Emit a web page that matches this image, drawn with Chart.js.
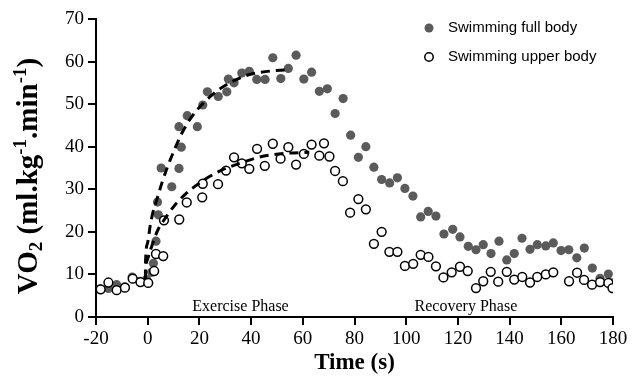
<!DOCTYPE html>
<html>
<head>
<meta charset="utf-8">
<script src="https://cdn.jsdelivr.net/npm/chart.js@4.4.1/dist/chart.umd.min.js"></script>
<style>
  html, body { margin: 0; padding: 0; background: #fff; }
  #wrap { width: 632px; height: 386px; }
</style>
</head>
<body>
<div id="wrap"><canvas id="vo2Chart" width="632" height="386"></canvas></div>
<script>
// ── Data ───────────────────────────────────────
const fullTime = [-18.4, -15.2, -12.0, -8.8, -6.0, -3.0, -0.4, 1.5, 2.2, 3.2, 4.1, 3.8, 5.2,
  9.3, 12.1, 13.0, 12.1, 15.3, 19.2, 21.3, 23.1, 27.3, 30.6, 31.2, 33.4, 36.4, 39.3, 42.2,
  45.4, 48.4, 51.5, 54.4, 57.4, 60.4, 63.4, 66.4, 69.5, 72.5, 75.6, 78.5, 81.5, 84.4, 87.5,
  90.5, 93.6, 96.6, 99.5, 102.6, 105.6, 108.5, 111.5, 114.6, 118.0, 120.8, 124.0, 127.0,
  129.8, 132.8, 135.9, 138.9, 141.8, 144.8, 147.9, 150.7, 154.0, 156.9, 159.9, 162.9, 166.0,
  168.9, 172.0, 175.0, 178.2, 179.8];
const fullVO2 = [6.6, 6.7, 7.6, 7.1, 9.4, 8.4, 8.8, 10.5, 12.6, 17.8, 24.0, 27.0, 35.0,
  30.6, 34.9, 39.9, 44.7, 47.3, 44.7, 49.8, 52.9, 51.8, 52.9, 55.9, 55.0, 57.3, 57.7, 55.8,
  55.8, 60.9, 56.0, 58.4, 61.5, 55.9, 57.5, 53.0, 53.6, 47.8, 51.3, 42.7, 37.5, 40.0, 35.2,
  32.3, 31.5, 32.7, 30.2, 28.4, 23.5, 24.8, 23.7, 19.5, 20.6, 18.8, 16.6, 15.8,
  17.0, 14.9, 17.8, 13.4, 14.9, 18.5, 15.9, 17.0, 16.7, 17.4, 15.6, 15.8, 13.9,
  16.2, 11.5, 9.1, 10.1, 8.0];

const upperTime = [-18.2, -15.2, -12.0, -8.8, -5.8, -2.8, 0.2, 2.5, 3.2, 6.0, 6.3, 12.2,
  15.1, 21.1, 21.3, 27.2, 30.3, 33.4, 36.4, 39.3, 42.3, 45.3, 48.4, 51.4, 54.4, 57.4, 60.4,
  63.4, 66.4, 68.2, 70.3, 72.5, 75.5, 78.3, 81.5, 84.4, 87.5, 90.5, 93.5, 96.6, 99.5, 102.7,
  105.6, 108.6, 111.5, 114.4, 117.6, 120.8, 123.8, 127.0, 129.8, 132.7, 135.6, 138.9, 141.8,
  144.9, 147.9, 150.7, 154.0, 156.9, 163.0, 166.1, 168.8, 171.9, 175.0, 178.2, 179.8];
const upperVO2 = [6.5, 8.1, 6.3, 6.9, 9.0, 8.2, 8.0, 10.8, 14.8, 14.3, 22.7, 22.9,
  26.9, 28.1, 31.3, 31.2, 34.4, 37.5, 36.1, 34.8, 39.5, 35.5, 40.7, 37.2, 39.9, 35.8, 38.3,
  40.5, 37.9, 40.8, 37.7, 34.3, 31.9, 24.5, 27.7, 25.3, 17.2, 20.0, 15.3, 15.3, 12.0, 12.5,
  14.6, 14.1, 11.9, 9.3, 10.5, 11.8, 10.8, 6.8, 8.4, 10.6, 8.3, 10.6, 8.8,
  9.4, 8.1, 9.4, 10.0, 10.5, 8.4, 10.4, 8.7, 7.6, 8.2, 8.0, 6.8];

// dashed fitted curves
const fitFullTime = [-0.9, -0.8, 0.0, 0.9, 2.0, 3.5, 5.5, 7.8, 10.5, 13.5, 17.0, 21.5, 27.0, 33.0, 38.0, 43.0, 48.0, 53.0];
const fitFullVO2 = [9.0, 13.5, 17.5, 21.2, 24.5, 27.5, 31.5, 35.5, 39.5, 43.5, 47.0, 50.2, 53.2, 55.4, 56.7, 57.4, 57.8, 58.0];
const fitUpperTime = [-0.9, -0.7, 0.2, 1.5, 2.8, 4.2, 6.0, 8.5, 11.2, 14.5, 18.5, 22.8, 29.0, 35.7, 42.2, 48.0, 55.0, 62.5];
const fitUpperVO2 = [9.0, 11.5, 14.0, 16.5, 18.8, 20.8, 22.5, 24.7, 26.8, 28.8, 30.8, 32.6, 34.6, 36.1, 37.4, 38.1, 38.5, 38.7];

const seriesNames = ['Swimming full body', 'Swimming upper body'];
const phaseLabels = ['Exercise Phase', 'Recovery Phase'];
const phaseCentres = [35.9, 123.1];
const xTicks = { min: -20, max: 180, step: 20 };
const yTicks = { min: 0, max: 70, step: 10 };

const toPoints = (xs, ys) => xs.map((x, i) => ({ x: x, y: ys[i] }));

const SERIF = '"Liberation Serif", "Times New Roman", serif';
const SANS = '"Liberation Sans", Arial, sans-serif';
const GREY = '#5b5b5b';

// ── Extra drawing: legend, phase labels, y title ───
const extrasPlugin = {
  id: 'extras',
  afterDraw(chart) {
    const ctx = chart.ctx;
    const area = chart.chartArea;
    const xs = chart.scales.x;
    ctx.save();

    // phase labels sitting on the x axis
    ctx.fillStyle = '#000';
    ctx.font = '16px ' + SERIF;
    ctx.textAlign = 'center';
    ctx.textBaseline = 'alphabetic';
    phaseLabels.forEach((t, i) => ctx.fillText(t, xs.getPixelForValue(phaseCentres[i]), area.bottom - 6));

    // legend (top right, inside plot)
    const lx = area.right - 184, ly = area.top + 9;
    ctx.font = '15px ' + SANS;
    ctx.textAlign = 'left';
    ctx.textBaseline = 'middle';
    ctx.beginPath();
    ctx.arc(lx, ly, 4.5, 0, Math.PI * 2);
    ctx.fillStyle = GREY;
    ctx.fill();
    ctx.fillStyle = '#000';
    ctx.fillText(seriesNames[0], lx + 19, ly);
    ctx.beginPath();
    ctx.arc(lx, ly + 29, 4.2, 0, Math.PI * 2);
    ctx.fillStyle = '#fff';
    ctx.fill();
    ctx.lineWidth = 1.5;
    ctx.strokeStyle = '#000';
    ctx.stroke();
    ctx.fillStyle = '#000';
    ctx.fillText(seriesNames[1], lx + 19, ly + 29);

    // y axis title with sub / superscripts
    const big = 'bold 29px ' + SERIF, small = 'bold 19px ' + SERIF;
    const parts = [['VO', 0], ['2', 1], [' (ml.kg', 0], ['-1', -1], ['.min', 0], ['-1', -1], [')', 0]];
    let total = 0;
    parts.forEach(p => { ctx.font = p[1] ? small : big; total += ctx.measureText(p[0]).width; });
    ctx.translate(37, (area.top + area.bottom) / 2 + 8);
    ctx.rotate(-Math.PI / 2);
    ctx.textBaseline = 'alphabetic';
    let cx = -total / 2;
    parts.forEach(p => {
      ctx.font = p[1] ? small : big;
      const dy = p[1] === 1 ? 5 : (p[1] === -1 ? -11 : 0);
      ctx.fillText(p[0], cx, dy);
      cx += ctx.measureText(p[0]).width;
    });
    ctx.restore();
  }
};

const axisGrid = { drawOnChartArea: false, drawTicks: true, tickLength: 8, color: '#000', lineWidth: 2 };

new Chart(document.getElementById('vo2Chart'), {
  type: 'scatter',
  data: {
    datasets: [
      {
        label: 'fit full', data: toPoints(fitFullTime, fitFullVO2), showLine: true,
        borderColor: '#000', borderWidth: 3, borderDash: [9, 6], pointRadius: 0,
        cubicInterpolationMode: 'monotone', order: 0
      },
      {
        label: 'fit upper', data: toPoints(fitUpperTime, fitUpperVO2), showLine: true,
        borderColor: '#000', borderWidth: 3, borderDash: [9, 6], pointRadius: 0,
        cubicInterpolationMode: 'monotone', order: 0
      },
      {
        label: seriesNames[1], data: toPoints(upperTime, upperVO2),
        pointRadius: 4.4, pointBackgroundColor: '#fff', pointBorderColor: '#000',
        pointBorderWidth: 1.5, order: 1
      },
      {
        label: seriesNames[0], data: toPoints(fullTime, fullVO2),
        pointRadius: 4.6, pointBackgroundColor: GREY, pointBorderColor: GREY,
        pointBorderWidth: 0, order: 2
      }
    ]
  },
  options: {
    responsive: false,
    animation: false,
    devicePixelRatio: 1,
    layout: { padding: { top: 19, right: 19, left: 0, bottom: 0 } },
    plugins: { legend: { display: false }, tooltip: { enabled: false } },
    events: [],
    scales: {
      x: {
        type: 'linear', min: xTicks.min, max: xTicks.max,
        ticks: { stepSize: xTicks.step, color: '#000', padding: 3, font: { family: SERIF, size: 19 } },
        grid: axisGrid,
        border: { display: true, color: '#000', width: 2 },
        title: { display: true, text: 'Time (s)', color: '#000', padding: { top: 4, bottom: 9 },
          font: { family: SERIF, size: 23, weight: 'bold' } },
        afterFit: s => { s.height = 69; }
      },
      y: {
        min: yTicks.min, max: yTicks.max,
        ticks: { stepSize: yTicks.step, color: '#000', padding: 4, font: { family: SERIF, size: 19 } },
        grid: axisGrid,
        border: { display: true, color: '#000', width: 2 },
        afterFit: s => { s.width = 96; }
      }
    }
  },
  plugins: [extrasPlugin]
});
</script>
</body>
</html>
